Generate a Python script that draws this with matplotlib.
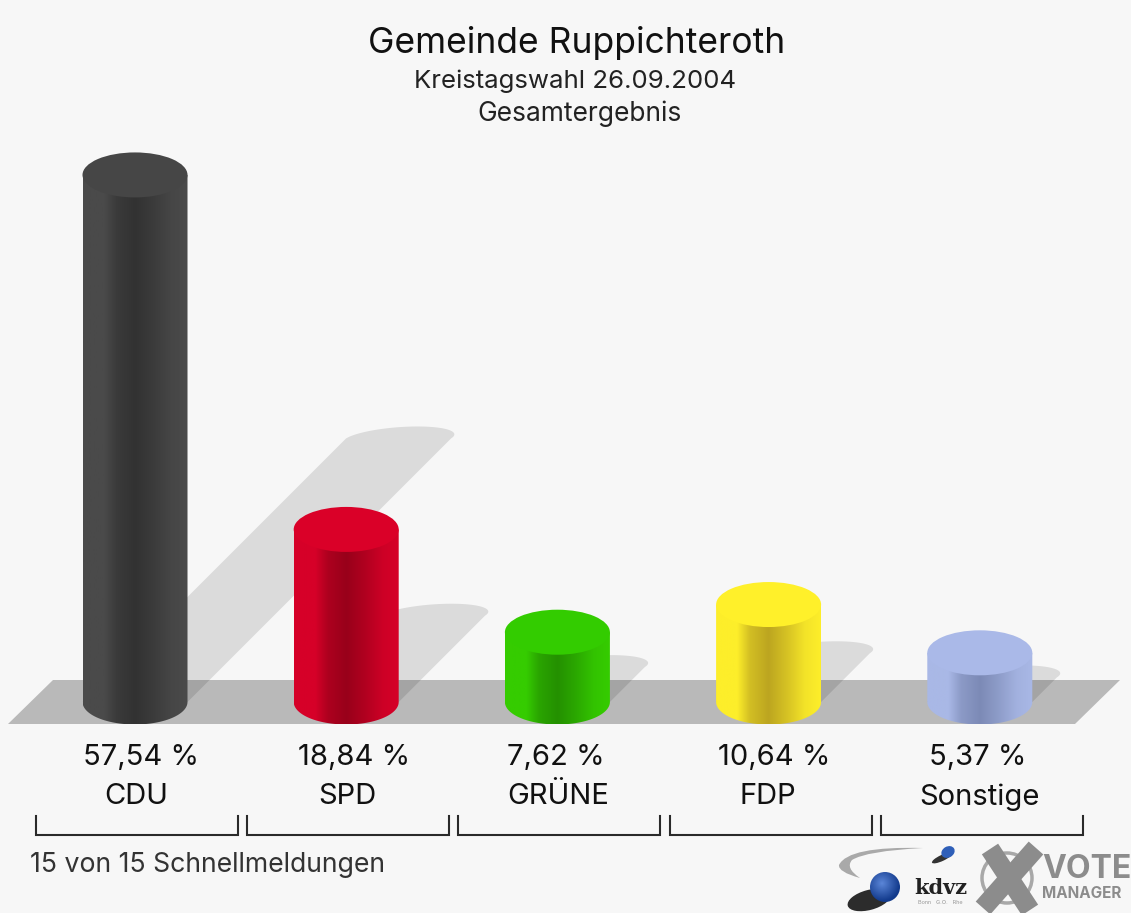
import numpy as np
import matplotlib
matplotlib.use("Agg")
import matplotlib.pyplot as plt
from matplotlib.colors import LinearSegmentedColormap, to_rgb
from matplotlib.patches import Polygon, Ellipse, Circle, PathPatch
from matplotlib.path import Path
from matplotlib.transforms import blended_transform_factory

parties = ["CDU", "SPD", "GRÜNE", "FDP", "Sonstige"]
values = [57.54, 18.84, 7.62, 10.64, 5.37]
edge_colors = ["#4a4a4a", "#d60028", "#35cc00", "#fdee2a", "#a9b8e6"]
mid_colors = ["#323232", "#98001a", "#249000", "#bca520", "#7c8ab6"]
top_colors = ["#464646", "#da0028", "#33cc00", "#fff02a", "#aab9e8"]

title = "Gemeinde Ruppichteroth"
subtitle = "Kreistagswahl 26.09.2004"
subtitle2 = "Gesamtergebnis"
footer = "15 von 15 Schnellmeldungen"

W, H = 1131, 913
BG = "#f7f7f7"
# pixel scale of the chart
X0, DX = 135, 211.2
Y0, DY = 702, 9.16
BAR_W = 52.5 / DX
BAR_E = 22.5 / DY
SH_E = 12 / DY
SH_SKEW = 19 / DX

plt.rcParams["font.family"] = ["Inter", "Liberation Sans", "DejaVu Sans"]

fig = plt.figure(figsize=(W / 100, H / 100), dpi=100, facecolor=BG)

# background axes in pixels, for the floor, texts and logos
px = fig.add_axes([0, 0, 1, 1], zorder=0)
px.set_xlim(0, W)
px.set_ylim(H, 0)
px.axis("off")

ax = fig.add_axes([0, 0, 1, 1], zorder=1)
ax.patch.set_alpha(0)
ax.axis("off")

px.add_patch(Polygon([(8, 724), (53, 680), (1120, 680), (1075, 724)], fc="#b9b9b9", ec="none"))

t = np.linspace(0, np.pi, 60)

# shadows lie on the wall at 45 degrees, half as high as the bar
for i, v in enumerate(values):
    sx = i + 0.5 * v * DY / DX
    sy = 0.5 * v
    pts = [(i + BAR_W, 0), (i - BAR_W, 0)]
    pts += [(sx - BAR_W * np.cos(a) + SH_SKEW * np.sin(a), sy + SH_E * np.sin(a)) for a in t]
    ax.add_patch(Polygon(pts, fc="black", ec="none", alpha=0.11, zorder=1))


def blend(c1, c2, f):
    return tuple((1 - f) * a + f * b for a, b in zip(to_rgb(c1), to_rgb(c2)))


# cylinders
for i, v in enumerate(values):
    e, m = edge_colors[i], mid_colors[i]
    cmap = LinearSegmentedColormap.from_list(
        "c", [(0, e), (0.2, e), (0.32, blend(e, m, 0.65)), (0.5, m),
              (0.68, blend(e, m, 0.6)), (0.85, blend(e, m, 0.15)), (1, e)])
    body = [(i - BAR_W, v), (i - BAR_W, 0)]
    body += [(i - BAR_W * np.cos(a), -BAR_E * np.sin(a)) for a in t]
    body += [(i + BAR_W, v)]
    patch = Polygon(body, fc="none", ec="none")
    ax.add_patch(patch)
    im = ax.imshow(np.linspace(0, 1, 128).reshape(1, -1), cmap=cmap, aspect="auto",
                   extent=(i - BAR_W, i + BAR_W, -BAR_E, v), zorder=2)
    im.set_clip_path(patch)
    ax.add_patch(Ellipse((i, v), 2 * BAR_W, 2 * BAR_E, fc=top_colors[i], ec="none", zorder=3))

ax.set_xlim(-X0 / DX, (W - X0) / DX)
ax.set_ylim((Y0 - H) / DY, Y0 / DY)

# labels under the bars, x from the bar axes and y in pixels
tr = blended_transform_factory(ax.transData, px.transData)
value_dx = [6, 8, -2, 6, -2]
name_dx = [1, 1, 1, -1, 0]
for i, (name, v) in enumerate(zip(parties, values)):
    ax.text(i + value_dx[i] / DX, 758, f"{v:.2f} %".replace(".", ","), transform=tr,
            ha="center", va="center", fontsize=21, color="#111111")
    ax.text(i + name_dx[i] / DX, 797, name, transform=tr,
            ha="center", va="center", fontsize=21, color="#111111")
    bx = i + 2 / DX
    bw = 101 / DX
    ax.plot([bx - bw, bx - bw, bx + bw, bx + bw], [816, 835, 835, 816], transform=tr,
            color="#2a2a2a", lw=1.5, solid_joinstyle="miter", clip_on=False)

px.text(577, 43, title, ha="center", va="center", fontsize=25.5, color="#111111")
px.text(575, 81, subtitle, ha="center", va="center", fontsize=18.6, color="#222222")
px.text(580, 114, subtitle2, ha="center", va="center", fontsize=19, color="#222222")
px.text(30, 865, footer, ha="left", va="center", fontsize=19.2, color="#333333")


def ball(x, y, r, light, dark):
    yy, xx = np.mgrid[-1:1:64j, -1:1:64j]
    d = np.clip(np.hypot(xx + 0.2, yy + 0.25) / 1.2, 0, 1)
    cm = LinearSegmentedColormap.from_list("b", [light, dark])
    c = Circle((x, y), r, fc="none", ec="none")
    px.add_patch(c)
    im = px.imshow(d, cmap=cm, vmin=0, vmax=1, aspect="auto",
                   extent=(x - r, x + r, y + r, y - r), zorder=4)
    im.set_clip_path(c)


# kdvz logo
swoosh = Path([(923, 848), (848, 846), (839, 865), (838, 872), (860, 878),
               (845, 868), (852, 860), (866, 851), (923, 848)],
              [Path.MOVETO, Path.CURVE3, Path.CURVE3, Path.CURVE3, Path.CURVE3,
               Path.CURVE3, Path.CURVE3, Path.CURVE3, Path.CURVE3])
px.add_patch(PathPatch(swoosh, fc="#a9a9a9", ec="none", zorder=3))
px.add_patch(Ellipse((869, 900), 44, 20, angle=-15, fc="#2c2c2c", ec="none", zorder=3))
ball(885, 887, 15, "#5b86d8", "#123a8c")
px.add_patch(Ellipse((942, 858), 22, 6, angle=-25, fc="#333333", ec="none", zorder=3))
px.add_patch(Ellipse((948, 852), 14, 11, angle=-30, fc="#2f5fb8", ec="none", zorder=4))
px.text(941, 888, "kdvz", ha="center", va="center", fontsize=15, family="DejaVu Serif",
        weight="bold", color="#222222")
px.text(940, 902, "Bonn   G.O.   Rhe", ha="center", va="center", fontsize=4, color="#999999")

# vote manager logo
px.add_patch(Circle((1007, 878), 25, fc="none", ec="#a8a8a8", lw=2.5, zorder=3))
px.plot([990, 1030], [849, 910], color="#8c8c8c", lw=14, solid_capstyle="butt", zorder=4)
px.plot([1036, 983], [848, 908], color="#8c8c8c", lw=14, solid_capstyle="butt", zorder=4)
px.text(1042, 870, "VOTE", ha="left", va="center", fontsize=23, weight="bold", color="#8c8c8c", zorder=4)
px.text(1042, 893, "MANAGER", ha="left", va="center", fontsize=11, weight="bold", color="#8c8c8c", zorder=4)

fig.savefig("out.png", dpi=100, facecolor=BG)
